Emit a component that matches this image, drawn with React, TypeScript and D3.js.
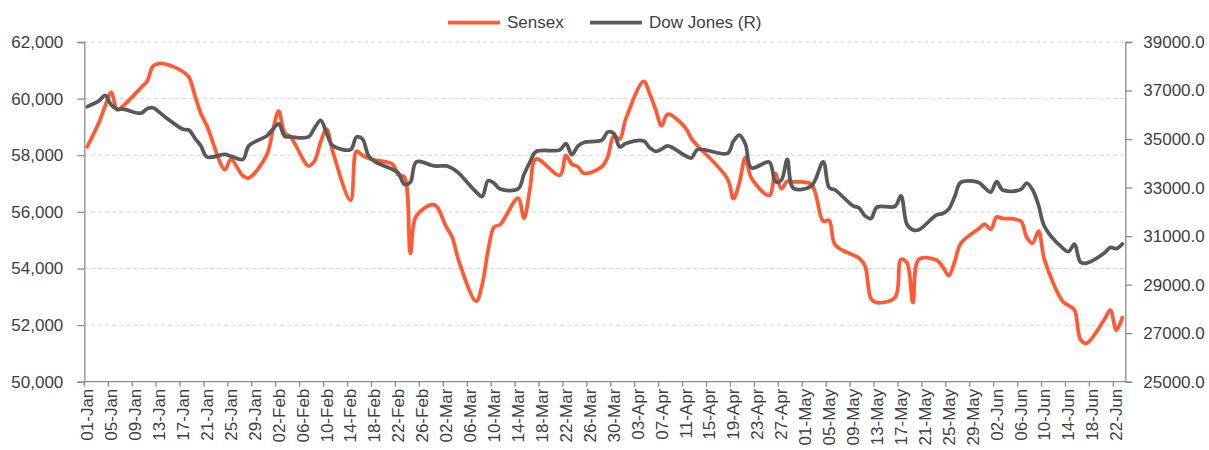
import * as d3 from "d3"
import { useEffect, useRef } from "react"

// trading days (BSE calendar), 01-Jan carries the year-end close
const dates = [
  "2022-01-01", "2022-01-03", "2022-01-04", "2022-01-05", "2022-01-06", "2022-01-07",
  "2022-01-10", "2022-01-11", "2022-01-12", "2022-01-13", "2022-01-14", "2022-01-17",
  "2022-01-18", "2022-01-19", "2022-01-20", "2022-01-21", "2022-01-24", "2022-01-25",
  "2022-01-27", "2022-01-28", "2022-01-31",
  "2022-02-01", "2022-02-02", "2022-02-03", "2022-02-04", "2022-02-07", "2022-02-08",
  "2022-02-09", "2022-02-10", "2022-02-11", "2022-02-14", "2022-02-15", "2022-02-16",
  "2022-02-17", "2022-02-18", "2022-02-21", "2022-02-22", "2022-02-23", "2022-02-24",
  "2022-02-25", "2022-02-28",
  "2022-03-02", "2022-03-03", "2022-03-04", "2022-03-07", "2022-03-08", "2022-03-09",
  "2022-03-10", "2022-03-11", "2022-03-14", "2022-03-15", "2022-03-16", "2022-03-17",
  "2022-03-21", "2022-03-22", "2022-03-23", "2022-03-24", "2022-03-25", "2022-03-28",
  "2022-03-29", "2022-03-30", "2022-03-31",
  "2022-04-01", "2022-04-04", "2022-04-05", "2022-04-06", "2022-04-07", "2022-04-08",
  "2022-04-11", "2022-04-12", "2022-04-13", "2022-04-18", "2022-04-19", "2022-04-20",
  "2022-04-21", "2022-04-22", "2022-04-25", "2022-04-26", "2022-04-27", "2022-04-28",
  "2022-04-29",
  "2022-05-02", "2022-05-04", "2022-05-05", "2022-05-06", "2022-05-09", "2022-05-10",
  "2022-05-11", "2022-05-12", "2022-05-13", "2022-05-16", "2022-05-17", "2022-05-18",
  "2022-05-19", "2022-05-20", "2022-05-23", "2022-05-24", "2022-05-25", "2022-05-26",
  "2022-05-27", "2022-05-30", "2022-05-31",
  "2022-06-01", "2022-06-02", "2022-06-03", "2022-06-06", "2022-06-07", "2022-06-08",
  "2022-06-09", "2022-06-10", "2022-06-13", "2022-06-14", "2022-06-15", "2022-06-16",
  "2022-06-17", "2022-06-20", "2022-06-21", "2022-06-22", "2022-06-23",
]

const sensex = [
  58300, 59183, 59750, 60223, 59601, 59744, 60395, 60617, 61150, 61235, 61223, 60950,
  60755, 60098, 59464, 59037, 57491, 57858, 57276, 57200, 58014,
  58862, 59558, 58788, 58645, 57621, 57808, 58466, 58926, 58153, 56405, 58142, 57997,
  57892, 57833, 57684, 57300, 57232, 54530, 55858, 56247,
  55469, 55103, 54334, 52843, 53424, 54647, 55464, 55550, 56486, 55777, 56816, 57864,
  57292, 57989, 57684, 57595, 57362, 57593, 57944, 58684, 58569,
  59277, 60612, 60176, 59610, 59035, 59447, 58965, 58576, 58339, 57167, 56463, 57038,
  57912, 57197, 56580, 57357, 56819, 57080, 57061,
  56976, 55669, 55702, 54836, 54471, 54365, 54088, 52930, 52794, 52974, 54319, 54208,
  52792, 54326, 54289, 54053, 53749, 54253, 54885, 55400, 55566,
  55382, 55818, 55769, 55675, 55107, 54893, 55320, 54303, 52847, 52694, 52541, 51496,
  51360, 52200, 52532, 51823, 52266,
]

const dowJones = [
  36338, 36585, 36800, 36408, 36236, 36231, 36068, 36252, 36290, 36114, 35912, 35400,
  35369, 35029, 34715, 34265, 34365, 34298, 34161, 34725, 35132,
  35405, 35629, 35112, 35089, 35091, 35463, 35768, 35241, 34738, 34566, 35089, 35004,
  34312, 34079, 33750, 33597, 33132, 33224, 34059, 33893,
  33891, 33795, 33615, 32818, 32633, 33287, 33174, 32944, 32946, 33545, 34063, 34481,
  34553, 34808, 34359, 34708, 34862, 34956, 35294, 35229, 34678,
  34818, 34922, 34641, 34497, 34584, 34721, 34309, 34221, 34565, 34412, 34912, 35161,
  34793, 33812, 34050, 33241, 33302, 34160, 32977,
  33061, 34061, 32998, 32900, 32246, 32161, 31834, 31730, 32197, 32223, 32655, 31490,
  31254, 31262, 31881, 31929, 32120, 32637, 33213, 33213, 32990,
  32813, 33248, 32900, 32916, 33180, 32910, 32273, 31393, 30517, 30365, 30669, 29927,
  29889, 30300, 30530, 30483, 30677,
]

const leftTicks = [50000, 52000, 54000, 56000, 58000, 60000, 62000]
const rightTicks = [25000, 27000, 29000, 31000, 33000, 35000, 37000, 39000]
const seriesNames = ["Sensex", "Dow Jones (R)"]
const seriesColors = ["#ff5a33", "#595959"]

const width = 1209
const height = 450
const marginLeft = 84.3
const marginRight = 83.7
const marginTop = 42
const marginBottom = 68.3
const font = "'Liberation Sans', Arial, sans-serif"
const textColor = "#404040"
const axisColor = "#8c8c8c"

export default function App() {
  const svgRef = useRef<SVGSVGElement>(null)

  useEffect(() => {
    if (!svgRef.current) return
    const svg = d3.select(svgRef.current)
    svg.selectAll("*").remove()

    const parse = d3.utcParse("%Y-%m-%d")
    const start = parse("2022-01-01")!
    const end = parse("2022-06-24")!
    const x = d3.scaleUtc().domain([start, end]).range([marginLeft, width - marginRight])
    const yLeft = d3.scaleLinear().domain([50000, 62000]).range([height - marginBottom, marginTop])
    const yRight = d3.scaleLinear().domain([25000, 39000]).range([height - marginBottom, marginTop])
    // points sit in the middle of their day slot
    const mid = (d: Date) => x(d3.utcHour.offset(d, 12))
    const parsed = dates.map((d) => parse(d)!)
    const bottom = height - marginBottom
    const right = width - marginRight

    // gridlines
    svg
      .append("g")
      .selectAll("line")
      .data(leftTicks.slice(1))
      .join("line")
      .attr("x1", marginLeft)
      .attr("x2", right)
      .attr("y1", (d) => yLeft(d))
      .attr("y2", (d) => yLeft(d))
      .attr("stroke", "#d4d4d4")
      .attr("stroke-dasharray", "4,3")

    // left axis
    svg
      .append("g")
      .attr("transform", `translate(${marginLeft},0)`)
      .call(
        d3
          .axisLeft(yLeft)
          .tickValues(leftTicks)
          .tickSize(7)
          .tickPadding(14)
          .tickFormat(d3.format(",")),
      )
      .call((g) => g.select(".domain").attr("stroke", axisColor).attr("stroke-width", 1.3))
      .call((g) => g.selectAll(".tick line").attr("stroke", axisColor).attr("stroke-width", 1.3))
      .call((g) =>
        g
          .selectAll(".tick text")
          .attr("fill", textColor)
          .attr("font-family", font)
          .attr("font-size", 17),
      )

    // right axis
    svg
      .append("g")
      .attr("transform", `translate(${right},0)`)
      .call(
        d3
          .axisRight(yRight)
          .tickValues(rightTicks)
          .tickSize(7)
          .tickPadding(11)
          .tickFormat(d3.format(".1f")),
      )
      .call((g) => g.select(".domain").attr("stroke", axisColor).attr("stroke-width", 1.3))
      .call((g) => g.selectAll(".tick line").attr("stroke", axisColor).attr("stroke-width", 1.3))
      .call((g) =>
        g
          .selectAll(".tick text")
          .attr("fill", textColor)
          .attr("font-family", font)
          .attr("font-size", 17),
      )

    // bottom axis, a tick every 4 days, labels centred in the day slot
    const xTicks = d3.utcDay.range(start, end, 4)
    const xAxis = svg.append("g")
    xAxis
      .append("line")
      .attr("x1", marginLeft)
      .attr("x2", right)
      .attr("y1", bottom)
      .attr("y2", bottom)
      .attr("stroke", axisColor)
      .attr("stroke-width", 1.3)
    xAxis
      .selectAll("line.tick")
      .data(xTicks)
      .join("line")
      .attr("class", "tick")
      .attr("x1", (d) => x(d))
      .attr("x2", (d) => x(d))
      .attr("y1", bottom)
      .attr("y2", bottom + 5)
      .attr("stroke", axisColor)
      .attr("stroke-width", 1.3)
    xAxis
      .selectAll("text")
      .data(xTicks)
      .join("text")
      .attr("transform", (d) => `translate(${mid(d)},${bottom + 7}) rotate(-90)`)
      .attr("dy", "0.35em")
      .attr("text-anchor", "end")
      .attr("fill", textColor)
      .attr("font-family", font)
      .attr("font-size", 17)
      .text((d) => d3.utcFormat("%d-%b")(d))

    // lines
    const lineLeft = d3
      .line<number>()
      .x((_, i) => mid(parsed[i]))
      .y((d) => yLeft(d))
      .curve(d3.curveCatmullRom.alpha(0.5))
    const lineRight = d3
      .line<number>()
      .x((_, i) => mid(parsed[i]))
      .y((d) => yRight(d))
      .curve(d3.curveCatmullRom.alpha(0.5))

    svg
      .append("path")
      .attr("d", lineLeft(sensex))
      .attr("fill", "none")
      .attr("stroke", seriesColors[0])
      .attr("stroke-width", 3.75)
      .attr("stroke-linejoin", "round")
      .attr("stroke-linecap", "round")
    svg
      .append("path")
      .attr("d", lineRight(dowJones))
      .attr("fill", "none")
      .attr("stroke", seriesColors[1])
      .attr("stroke-width", 3.75)
      .attr("stroke-linejoin", "round")
      .attr("stroke-linecap", "round")

    // legend
    const legendX = [448, 590]
    const legend = svg
      .append("g")
      .selectAll("g")
      .data(seriesNames)
      .join("g")
      .attr("transform", (_, i) => `translate(${legendX[i]},22.5)`)
    legend
      .append("line")
      .attr("x1", 0)
      .attr("x2", 52)
      .attr("stroke", (_, i) => seriesColors[i])
      .attr("stroke-width", 3.75)
    legend
      .append("text")
      .attr("x", 59)
      .attr("dy", "0.35em")
      .attr("fill", textColor)
      .attr("font-family", font)
      .attr("font-size", 17)
      .text((d) => d)
  }, [])

  return (
    <div style={{ position: "absolute", left: 0, top: 0 }}>
      <svg ref={svgRef} width={width} height={height} style={{ display: "block", background: "#fff" }}></svg>
    </div>
  )
}
